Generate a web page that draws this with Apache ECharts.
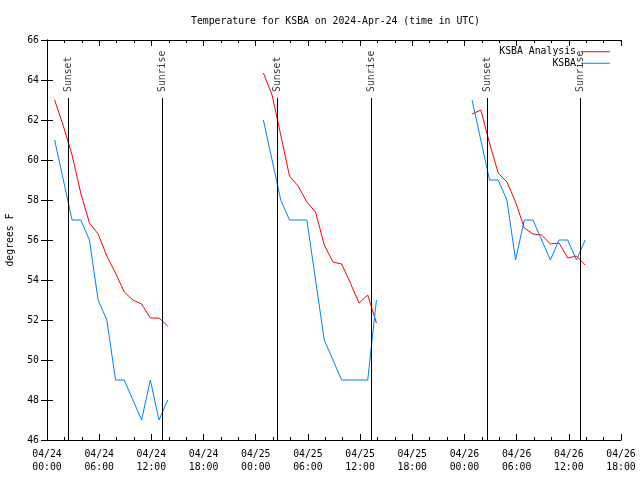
<!DOCTYPE html>
<html>
<head>
<meta charset="utf-8">
<script src="https://cdn.jsdelivr.net/npm/echarts@6/dist/echarts.min.js"></script>
<style>html,body{margin:0;padding:0;background:#fff}#c{width:640px;height:480px}</style>
</head>
<body>
<div id="c"></div>
<script>
// Hours since 2024-04-24 00:00 UTC
const analysisHours1 = [0.88, 1.88, 2.88, 3.88, 4.88, 5.88, 6.88, 7.88, 8.88, 9.88, 10.88, 11.88, 12.88, 13.88];
const analysisTemps1 = [63.0, 61.7, 60.25, 58.35, 56.85, 56.3, 55.2, 54.35, 53.4, 53.0, 52.8, 52.1, 52.1, 51.7];
const analysisHours2 = [24.88, 25.88, 26.88, 27.88, 28.88, 29.88, 30.88, 31.88, 32.88, 33.88, 34.88, 35.88, 36.88, 37.88];
const analysisTemps2 = [64.35, 63.25, 61.25, 59.2, 58.7, 57.9, 57.4, 55.75, 54.9, 54.8, 53.85, 52.85, 53.25, 51.85];
const analysisHours3 = [48.88, 49.88, 50.88, 51.88, 52.88, 53.88, 54.88, 55.88, 56.88, 57.88, 58.88, 59.88, 60.88, 61.88];
const analysisTemps3 = [62.3, 62.5, 60.85, 59.35, 58.9, 57.9, 56.6, 56.3, 56.25, 55.8, 55.85, 55.1, 55.2, 54.75];

const obsHours1 = [0.88, 1.88, 2.88, 3.88, 4.88, 5.88, 6.88, 7.88, 8.88, 9.88, 10.88, 11.88, 12.88, 13.88];
const obsTemps1 = [61, 59, 57, 57, 56, 53, 52, 49, 49, 48, 47, 49, 47, 48];
const obsHours2 = [24.88, 25.88, 26.88, 27.88, 28.88, 29.88, 30.88, 31.88, 32.88, 33.88, 34.88, 35.88, 36.88, 37.38, 37.88];
const obsTemps2 = [62, 60, 58, 57, 57, 57, 54, 51, 50, 49, 49, 49, 49, 51, 53];
const obsHours3 = [48.88, 49.88, 50.88, 51.88, 52.88, 53.88, 54.88, 55.88, 56.88, 57.88, 58.88, 59.88, 60.88, 61.88];
const obsTemps3 = [63, 61, 59, 59, 58, 55, 57, 57, 56, 55, 56, 56, 55, 56];

const gapHours = [18, 42];

const sunEventHours = [2.47, 13.26, 26.48, 37.29, 50.63, 61.32];
const sunEventNames = ['Sunset', 'Sunrise', 'Sunset', 'Sunrise', 'Sunset', 'Sunrise'];
const sunLineTop = 63.1;

const dateLabels = ['04/24', '04/25', '04/26', '04/27'];
const yTicks = { min: 46, max: 66, interval: 2 };
const xTicks = { min: 0, max: 66, interval: 6 };

function pairs(hs, vs) { return hs.map((h, i) => [h, vs[i]]); }
function joined(parts) {
  const out = [];
  parts.forEach((p, i) => {
    if (i > 0) out.push([gapHours[i - 1], null]);
    out.push(...p);
  });
  return out;
}

const FONT = 'DejaVu Sans Mono';
const FS = 9.8;

const analysisData = joined([pairs(analysisHours1, analysisTemps1), pairs(analysisHours2, analysisTemps2), pairs(analysisHours3, analysisTemps3)]);
const obsData = joined([pairs(obsHours1, obsTemps1), pairs(obsHours2, obsTemps2), pairs(obsHours3, obsTemps3)]);

const sunLabels = sunEventHours.map((h, i) => [h, sunLineTop, sunEventNames[i]]);
const sunLines = sunEventHours.map(h => [{ coord: [h, yTicks.min] }, { coord: [h, sunLineTop] }]);

function pad(n) { return (n < 10 ? '0' : '') + n; }

const chart = echarts.init(document.getElementById('c'), null, { renderer: 'canvas' });
const tickCommon = { show: true, inside: true, length: 6, lineStyle: { color: '#000', width: 1 } };
const minorCommon = { show: true, splitNumber: 3, length: 3, lineStyle: { color: '#000', width: 1 } };

chart.setOption({
  animation: false,
  backgroundColor: '#fff',
  textStyle: { fontFamily: FONT, fontSize: FS, color: '#000' },
  title: {
    text: 'Temperature for KSBA on 2024-Apr-24 (time in UTC)',
    left: 186, top: 11,
    textStyle: { fontFamily: FONT, fontSize: FS, fontWeight: 'normal', color: '#000' }
  },
  legend: {
    data: ['KSBA Analysis', 'KSBA'],
    orient: 'vertical', align: 'right',
    right: 25, top: 41,
    icon: 'rect',
    itemWidth: 29, itemHeight: 1, itemGap: 0,
    textStyle: { fontFamily: FONT, fontSize: FS, color: '#000', lineHeight: 11.5 }
  },
  grid: { left: 47, right: 19, top: 40, bottom: 40, containLabel: false, outerBoundsMode: 'none' },
  xAxis: [{
    type: 'value', position: 'bottom', min: xTicks.min, max: xTicks.max, interval: xTicks.interval,
    axisLine: { show: true, lineStyle: { color: '#000', width: 1 } },
    axisTick: tickCommon, minorTick: minorCommon,
    splitLine: { show: false },
    axisLabel: {
      margin: 8, fontFamily: FONT, fontSize: FS, color: '#000', lineHeight: 13,
      formatter: v => dateLabels[Math.floor(v / 24)] + '\n' + pad(v % 24) + ':00'
    }
  }, {
    type: 'value', position: 'top', min: xTicks.min, max: xTicks.max, interval: xTicks.interval,
    axisLine: { show: true, lineStyle: { color: '#000', width: 1 } },
    axisTick: tickCommon, minorTick: minorCommon,
    splitLine: { show: false }, axisLabel: { show: false }
  }],
  yAxis: [{
    type: 'value', position: 'left', min: yTicks.min, max: yTicks.max, interval: yTicks.interval,
    name: 'degrees F', nameLocation: 'middle', nameGap: 32, nameRotate: 90,
    nameTextStyle: { fontFamily: FONT, fontSize: FS, color: '#000' },
    axisLine: { show: true, lineStyle: { color: '#000', width: 1 } },
    axisTick: tickCommon, splitLine: { show: false },
    axisLabel: { margin: 8, fontFamily: FONT, fontSize: FS, color: '#000' }
  }, {
    type: 'value', position: 'right', min: yTicks.min, max: yTicks.max, interval: yTicks.interval,
    axisLine: { show: true, lineStyle: { color: '#000', width: 1 } },
    axisTick: tickCommon, splitLine: { show: false }, axisLabel: { show: false }
  }],
  series: [{
    name: 'KSBA Analysis', type: 'line', data: analysisData,
    symbol: 'none', showSymbol: false, connectNulls: false,
    lineStyle: { color: '#ff0000', width: 1 }, itemStyle: { color: '#ff0000' }, z: 2
  }, {
    name: 'KSBA', type: 'line', data: obsData,
    symbol: 'none', showSymbol: false, connectNulls: false,
    lineStyle: { color: '#0080ff', width: 1 }, itemStyle: { color: '#0080ff' }, z: 3
  }, {
    name: 'sun', type: 'scatter', data: sunLabels, symbolSize: 0, z: 4,
    label: {
      show: true, position: 'top', distance: 6, rotate: 90, align: 'left', verticalAlign: 'middle',
      fontFamily: FONT, fontSize: FS, color: '#000', formatter: p => p.data[2]
    },
    markLine: {
      silent: true, symbol: ['none', 'none'], label: { show: false },
      lineStyle: { color: '#000', width: 1, type: 'solid' },
      data: sunLines
    }
  }]
});
</script>
</body>
</html>
